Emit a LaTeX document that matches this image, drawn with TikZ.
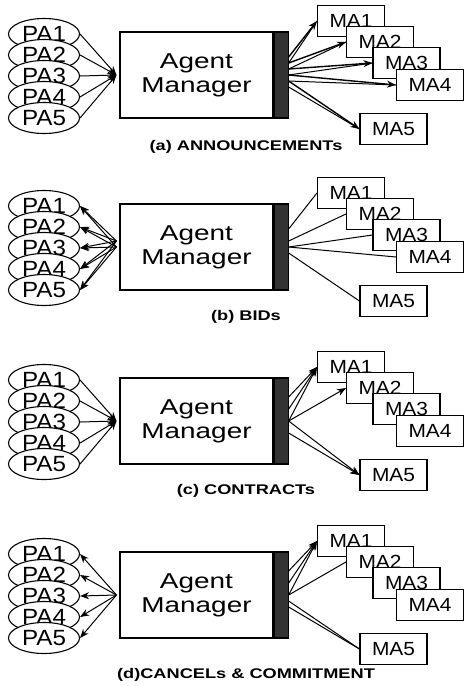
\documentclass[tikz,border=0pt]{standalone}
\usepackage{fontspec}
\usetikzlibrary{shapes.geometric,arrows.meta,calc}

\setmainfont{Liberation Sans}
\newfontfamily\labelfont[FakeStretch=1.1]{Liberation Sans}
\newfontfamily\widefont[FakeStretch=1.3]{Liberation Sans}

\tikzset{
  pa/.style={ellipse, draw, fill=white, line width=1.1pt, minimum width=71pt,
    minimum height=31pt, inner sep=0pt, font=\labelfont\fontsize{22}{22}\selectfont},
  ma/.style={rectangle, draw, fill=white, line width=1.1pt, minimum width=67pt,
    minimum height=31pt, inner sep=0pt, font=\labelfont\fontsize{19}{19}\selectfont},
  mgr/.style={rectangle, draw, line width=1.1pt, minimum width=153pt,
    minimum height=86pt, align=center, font=\widefont\fontsize{21.5}{24}\selectfont},
  bar/.style={rectangle, draw, fill=black!80, line width=1.1pt, minimum width=14pt,
    minimum height=86pt, inner sep=0pt},
  caption/.style={font=\widefont\bfseries\fontsize{14}{14}\selectfont},
  msg/.style={line width=1pt},
  heavy/.style={line width=1.4pt},
}

% one panel: the five PAs, the manager box with its bar, the five MAs
% #1 name prefix, #2 vertical offset, #3 caption height, #4 caption
\newcommand{\agentpanel}[4]{
  \begin{scope}[shift={(0,#2)}]
    \foreach \i in {1,...,5}
      \node[pa] (#1PA\i) at (44,13+21*\i) {PA\i};
    \node[mgr] (#1AM) at (196.5,75) {Agent\\Manager};
    \node[bar, anchor=west] (#1bar) at (#1AM.east) {};
    \foreach \k/\x/\y in {1/351/21, 2/380/42, 3/406.5/63, 4/430/85, 5/393.5/129}
      \node[ma] (#1MA\k) at (\x,\y) {MA\k};
    \node[caption] (#1cap) at (246,#3) {#4};
  \end{scope}
  % meeting points left of the box, start points on the bar
  \coordinate (#1J) at ($(#1AM.west)+(-3,0)$);
  \coordinate (#1K) at ($(#1AM.west)+(-3,-6)$);
  \foreach \k in {1,...,7}
    \coordinate (#1o\k) at ($(#1bar.east)+(0,-30+6*\k)$);
}

\begin{document}
\begin{tikzpicture}[x=1pt, y=-1pt, >={Stealth[length=9pt,width=7pt]}]
    \useasboundingbox (0,0) rectangle (464,686);

    \agentpanel{a}{0}{147}{(a) ANNOUNCEMENTs}
    \agentpanel{b}{172}{145}{(b) BIDs}
    \agentpanel{c}{346}{145}{(c) CONTRACTs}
    \agentpanel{d}{520}{155}{(d)CANCELs \& COMMITMENT}

    % (a) PAs to manager, manager to every MA
    \foreach \i in {1,...,5}
      \draw[msg, ->] (aPA\i.east) -- (aJ);
    \foreach \ma/\oa/\ob in {1/2/3, 2/3/4, 3/4/5, 4/5/6, 5/6/7} {
      \draw[heavy, ->] (ao\oa) -- (aMA\ma.west);
      \draw[msg] (ao\ob) -- (aMA\ma.west);
    }

    % (b) manager back to the PAs, MAs answer
    \foreach \i in {1,...,5} {
      \draw[msg, ->] (bJ) -- (bPA\i.east);
      \draw[msg, ->] (bK) -- (bPA\i.east);
    }
    \foreach \ma/\oa in {1/2, 2/4, 3/5, 4/5, 5/6}
      \draw[msg] (bo\oa) -- (bMA\ma.west);

    % (c) PAs to manager, contracts to MA1, MA2, MA5
    \foreach \i in {1,...,5}
      \draw[msg, ->] (cPA\i.east) -- (cJ);
    \foreach \oa in {1,3,5}
      \draw[msg, ->] (co\oa) -- (cMA1.west);
    \draw[msg, ->] (co5) -- (cMA2.west);
    \foreach \oa in {5,7}
      \draw[msg, ->] (co\oa) -- (cMA5.west);

    % (d) manager to the PAs, cancel / commit
    \foreach \i in {1,...,5}
      \draw[msg, ->] (dJ) -- (dPA\i.east);
    \foreach \oa in {1,3,5}
      \draw[msg, ->] (do\oa) -- (dMA1.west);
    \draw[msg] (do5) -- (dMA2.west);
    \foreach \oa in {6,7}
      \draw[msg] (do\oa) -- (dMA5.west);
\end{tikzpicture}
\end{document}
